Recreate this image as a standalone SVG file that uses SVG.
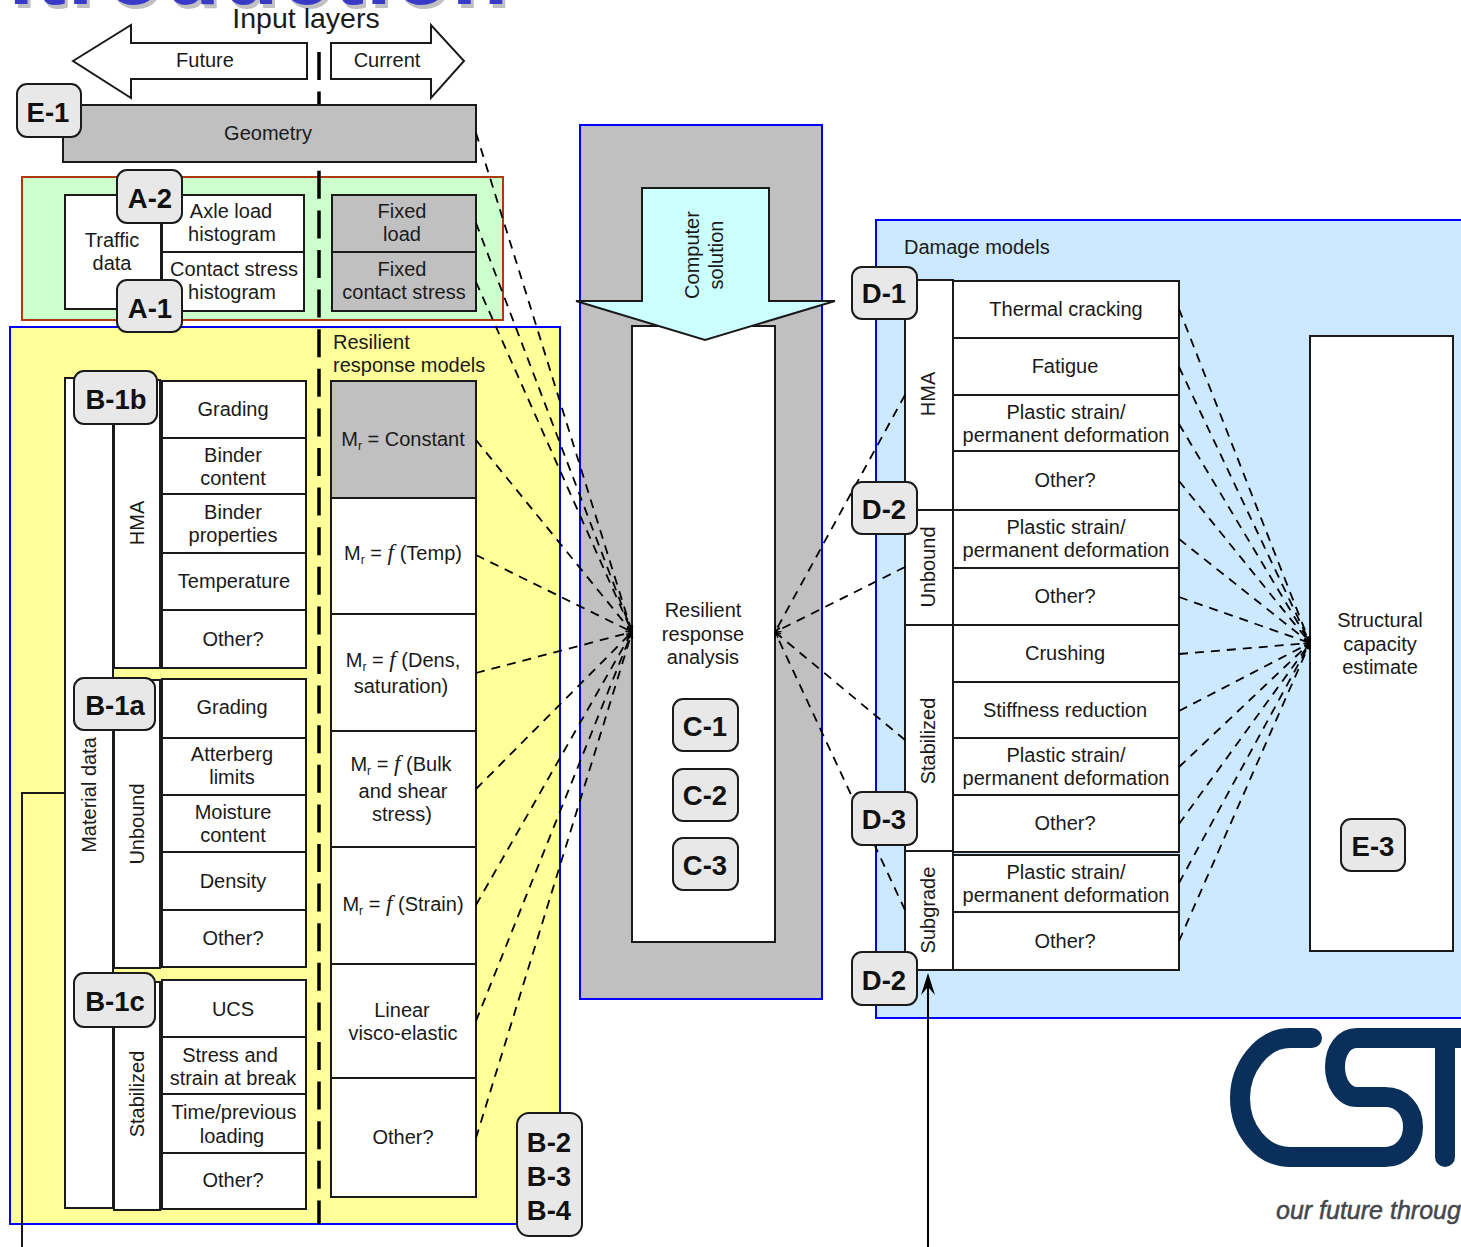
<svg xmlns="http://www.w3.org/2000/svg" width="1461" height="1247" viewBox="0 0 1461 1247">
<style>
text{font-family:"Liberation Sans",Arial,sans-serif;font-size:20px;fill:#1a1a1a;text-anchor:middle}
.s{text-anchor:start}
.box{fill:#fff;stroke:#1a1a1a;stroke-width:2}
.gr{fill:#c0c0c0;stroke:#1a1a1a;stroke-width:2}
.tag{fill:#e8e8e8;stroke:#1a1a1a;stroke-width:2}
.t{font-size:27.5px;font-weight:bold;fill:#111}
.panel{stroke:#0000ff;stroke-width:2}
.d{fill:none;stroke:#000;stroke-width:1.8;stroke-dasharray:9 7;marker-end:url(#oa)}
.sub{font-size:12px}
.f{font-family:"Liberation Serif",serif;font-style:italic;font-size:23px}
</style>
<defs>
<marker id="oa" markerUnits="userSpaceOnUse" markerWidth="9" markerHeight="8" refX="8" refY="4" orient="auto"><path d="M2 1.5L8 4L2 6.5" fill="none" stroke="#000" stroke-width="1.3" stroke-dasharray="none"/></marker>
<marker id="st" markerUnits="userSpaceOnUse" markerWidth="24" markerHeight="16" refX="12" refY="8" orient="auto"><path d="M22 8L0 1L8 8L0 15Z" fill="#000"/></marker>
</defs>

<g id="title">
<text x="513" y="8" style="font-size:92px;font-weight:bold;fill:#c0c0c0;text-anchor:end;letter-spacing:2px">Introduction</text>
<text x="510" y="4" style="font-size:92px;font-weight:bold;fill:#3a3ac8;text-anchor:end;letter-spacing:2px">Introduction</text>
</g>

<g id="panels">
<rect x="22" y="177" width="481" height="143" fill="#ccffcc" stroke="#b03a10" stroke-width="2"/>
<rect class="panel" x="10" y="327" width="550" height="897" fill="#ffff99"/>
<rect class="panel" x="580" y="125" width="242" height="874" fill="#c0c0c0"/>
<rect class="panel" x="876" y="220" width="590" height="798" fill="#cce9ff"/>
</g>

<path id="divider" d="M319 52V1224" fill="none" stroke="#000" stroke-width="3.5" stroke-dasharray="28 11.6"/>
<text x="306" y="28" style="font-size:28.5px">Input layers</text>

<g id="future"><path class="box" d="M73 61L131 25V43H307V79H131V98Z"/><text x="205" y="67">Future</text></g>
<g id="current"><path class="box" d="M331 43H431V25L464 61L431 98V79H331Z"/><text x="387" y="67">Current</text></g>
<g id="geometry"><rect class="gr" x="63" y="105" width="413" height="57"/><text x="268" y="140">Geometry</text></g>

<g id="traffic">
<rect class="box" x="65" y="195" width="96" height="114"/><text x="112" y="247">Traffic</text><text x="112" y="270">data</text>
<rect class="box" x="162" y="195" width="142" height="57"/><text x="231" y="218">Axle load</text><text x="232" y="241">histogram</text>
<rect class="box" x="162" y="252" width="142" height="59"/><text x="234" y="276">Contact stress</text><text x="232" y="299">histogram</text>
</g>
<g id="fixed">
<rect class="gr" x="332" y="195" width="144" height="57"/><text x="402" y="218">Fixed</text><text x="402" y="241">load</text>
<rect class="gr" x="332" y="252" width="144" height="59"/><text x="402" y="276">Fixed</text><text x="404" y="299">contact stress</text>
</g>

<g id="material-data"><rect class="box" x="65" y="378" width="48" height="830"/><text transform="translate(96 795) rotate(-90)">Material data</text></g>
<g id="hma">
<rect class="box" x="114" y="380" width="46" height="288"/><text transform="translate(144 523) rotate(-90)">HMA</text>
<rect class="box" x="162" y="381" width="144" height="57"/><text x="233" y="416">Grading</text>
<rect class="box" x="162" y="438" width="144" height="56"/><text x="233" y="462">Binder</text><text x="233" y="485">content</text>
<rect class="box" x="162" y="494" width="144" height="59"/><text x="233" y="519">Binder</text><text x="233" y="542">properties</text>
<rect class="box" x="162" y="553" width="144" height="57"/><text x="234" y="588">Temperature</text>
<rect class="box" x="162" y="610" width="144" height="58"/><text x="233" y="646">Other?</text>
</g>
<g id="unbound">
<rect class="box" x="114" y="680" width="46" height="288"/><text transform="translate(144 824) rotate(-90)">Unbound</text>
<rect class="box" x="162" y="679" width="144" height="59"/><text x="232" y="714">Grading</text>
<rect class="box" x="162" y="738" width="144" height="57"/><text x="232" y="761">Atterberg</text><text x="232" y="784">limits</text>
<rect class="box" x="162" y="795" width="144" height="57"/><text x="233" y="819">Moisture</text><text x="233" y="842">content</text>
<rect class="box" x="162" y="852" width="144" height="58"/><text x="233" y="888">Density</text>
<rect class="box" x="162" y="910" width="144" height="57"/><text x="233" y="945">Other?</text>
</g>
<g id="stabilized">
<rect class="box" x="114" y="982" width="46" height="228"/><text transform="translate(144 1094) rotate(-90)">Stabilized</text>
<rect class="box" x="162" y="980" width="144" height="57"/><text x="233" y="1016">UCS</text>
<rect class="box" x="162" y="1037" width="144" height="57"/><text x="230" y="1062">Stress and</text><text x="233" y="1085">strain at break</text>
<rect class="box" x="162" y="1094" width="144" height="59"/><text x="234" y="1119">Time/previous</text><text x="232" y="1143">loading</text>
<rect class="box" x="162" y="1153" width="144" height="56"/><text x="233" y="1187">Other?</text>
</g>

<g id="resilient-models">
<text class="s" x="333" y="349">Resilient</text><text class="s" x="333" y="372">response models</text>
<rect class="gr" x="331" y="381" width="145" height="117"/><text x="403" y="446">M<tspan class="sub" dy="4">r</tspan><tspan dy="-4"> = Constant</tspan></text>
<rect class="box" x="331" y="498" width="145" height="116"/><text x="403" y="560">M<tspan class="sub" dy="4">r</tspan><tspan dy="-4"> = </tspan><tspan class="f">f </tspan><tspan>(Temp)</tspan></text>
<rect class="box" x="331" y="614" width="145" height="117"/><text x="403" y="667">M<tspan class="sub" dy="4">r</tspan><tspan dy="-4"> = </tspan><tspan class="f">f </tspan><tspan>(Dens,</tspan></text><text x="401" y="693">saturation)</text>
<rect class="box" x="331" y="731" width="145" height="116"/><text x="401" y="771">M<tspan class="sub" dy="4">r</tspan><tspan dy="-4"> = </tspan><tspan class="f">f </tspan><tspan>(Bulk</tspan></text><text x="403" y="798">and shear</text><text x="402" y="821">stress)</text>
<rect class="box" x="331" y="847" width="145" height="117"/><text x="403" y="911">M<tspan class="sub" dy="4">r</tspan><tspan dy="-4"> = </tspan><tspan class="f">f </tspan><tspan>(Strain)</tspan></text>
<rect class="box" x="331" y="964" width="145" height="114"/><text x="402" y="1017">Linear</text><text x="403" y="1040">visco-elastic</text>
<rect class="box" x="331" y="1078" width="145" height="119"/><text x="403" y="1144">Other?</text>
</g>

<g id="analysis">
<rect class="box" x="632" y="326" width="143" height="616"/>
<text x="703" y="617">Resilient</text><text x="703" y="641">response</text><text x="703" y="664">analysis</text>
</g>
<g id="computer-solution"><path d="M642 188H769V301H835L705 340L576 301H642Z" fill="#ccffff" stroke="#1a1a1a" stroke-width="2"/>
<text transform="translate(699 255) rotate(-90)">Computer</text><text transform="translate(723 255) rotate(-90)">solution</text></g>

<g id="damage-models">
<text class="s" x="904" y="254">Damage models</text>
<rect class="box" x="905" y="280" width="48" height="230"/><text transform="translate(935 394) rotate(-90)">HMA</text>
<rect class="box" x="905" y="510" width="48" height="115"/><text transform="translate(935 567) rotate(-90)">Unbound</text>
<rect class="box" x="905" y="625" width="48" height="226"/><text transform="translate(935 741) rotate(-90)">Stabilized</text>
<rect class="box" x="905" y="851" width="48" height="119"/><text transform="translate(935 910) rotate(-90)">Subgrade</text>
<rect class="box" x="953" y="281" width="226" height="57"/><text x="1066" y="316">Thermal cracking</text>
<rect class="box" x="953" y="338" width="226" height="57"/><text x="1065" y="373">Fatigue</text>
<rect class="box" x="953" y="395" width="226" height="56"/><text x="1066" y="419">Plastic strain/</text><text x="1066" y="442">permanent deformation</text>
<rect class="box" x="953" y="451" width="226" height="59"/><text x="1065" y="487">Other?</text>
<rect class="box" x="953" y="510" width="226" height="58"/><text x="1066" y="534">Plastic strain/</text><text x="1066" y="557">permanent deformation</text>
<rect class="box" x="953" y="568" width="226" height="57"/><text x="1065" y="603">Other?</text>
<rect class="box" x="953" y="625" width="226" height="57"/><text x="1065" y="660">Crushing</text>
<rect class="box" x="953" y="682" width="226" height="56"/><text x="1065" y="717">Stiffness reduction</text>
<rect class="box" x="953" y="738" width="226" height="57"/><text x="1066" y="762">Plastic strain/</text><text x="1066" y="785">permanent deformation</text>
<rect class="box" x="953" y="795" width="226" height="57"/><text x="1065" y="830">Other?</text>
<rect class="box" x="953" y="855" width="226" height="57"/><text x="1066" y="879">Plastic strain/</text><text x="1066" y="902">permanent deformation</text>
<rect class="box" x="953" y="912" width="226" height="58"/><text x="1065" y="948">Other?</text>
</g>
<g id="structural"><rect class="box" x="1310" y="336" width="143" height="615"/>
<text x="1380" y="627">Structural</text><text x="1380" y="651">capacity</text><text x="1380" y="674">estimate</text></g>

<g id="connectors">
<path class="d" d="M476 133L632 632"/><path class="d" d="M476 223L632 632"/><path class="d" d="M476 282L632 632"/>
<path class="d" d="M476 440L632 632"/><path class="d" d="M476 555L632 632"/><path class="d" d="M476 673L632 632"/>
<path class="d" d="M476 789L632 632"/><path class="d" d="M476 905L632 632"/><path class="d" d="M476 1021L632 632"/><path class="d" d="M476 1138L632 632"/>
<path class="d" d="M905 395L775 632"/><path class="d" d="M905 567L775 632"/><path class="d" d="M905 740L775 632"/><path class="d" d="M905 910L775 632"/>
<path class="d" d="M1179 309L1310 643"/><path class="d" d="M1179 367L1310 643"/><path class="d" d="M1179 424L1310 643"/><path class="d" d="M1179 481L1310 643"/>
<path class="d" d="M1179 539L1310 643"/><path class="d" d="M1179 597L1310 643"/><path class="d" d="M1179 654L1310 643"/><path class="d" d="M1179 711L1310 643"/>
<path class="d" d="M1179 767L1310 643"/><path class="d" d="M1179 824L1310 643"/><path class="d" d="M1179 883L1310 643"/><path class="d" d="M1179 941L1310 643"/>
<path d="M22 1247V793H65" fill="none" stroke="#1a1a1a" stroke-width="2"/>
<path d="M928 1247V983" fill="none" stroke="#000" stroke-width="2" marker-end="url(#st)"/>
</g>

<g id="logo">
<path d="M1312 1038H1290C1262 1038 1240 1068 1240 1098C1240 1130 1262 1157 1290 1157H1385C1402 1157 1413 1143 1413 1127C1413 1110 1402 1097 1385 1097H1357C1344 1097 1335 1083 1335 1067C1335 1050 1344 1038 1357 1038H1461M1445 1038V1157" fill="none" stroke="#0a2f5a" stroke-width="20" stroke-linecap="round"/>
<text class="s" x="1276" y="1219" style="font-size:25px;font-style:italic;fill:#44474c;stroke:#44474c;stroke-width:.5">our future throug</text>
</g>

<g id="tag-E-1"><rect class="tag" x="17" y="84" width="64" height="53" rx="10"/><text class="t" x="48" y="122">E-1</text></g>
<g id="tag-A-2"><rect class="tag" x="117" y="170" width="65" height="53" rx="10"/><text class="t" x="150" y="208">A-2</text></g>
<g id="tag-A-1"><rect class="tag" x="117" y="280" width="65" height="52" rx="10"/><text class="t" x="150" y="318">A-1</text></g>
<g id="tag-B-1b"><rect class="tag" x="74" y="371" width="83" height="53" rx="10"/><text class="t" x="116" y="409">B-1b</text></g>
<g id="tag-B-1a"><rect class="tag" x="74" y="678" width="81" height="52" rx="10"/><text class="t" x="115" y="715">B-1a</text></g>
<g id="tag-B-1c"><rect class="tag" x="74" y="973" width="81" height="54" rx="10"/><text class="t" x="115" y="1011">B-1c</text></g>
<g id="tag-B-234"><rect class="tag" x="517" y="1113" width="65" height="123" rx="12"/><text class="t" x="549" y="1152">B-2</text><text class="t" x="549" y="1186">B-3</text><text class="t" x="549" y="1220">B-4</text></g>
<g id="tag-C-1"><rect class="tag" x="673" y="699" width="65" height="52" rx="10"/><text class="t" x="705" y="736">C-1</text></g>
<g id="tag-C-2"><rect class="tag" x="673" y="769" width="65" height="52" rx="10"/><text class="t" x="705" y="805">C-2</text></g>
<g id="tag-C-3"><rect class="tag" x="673" y="838" width="65" height="52" rx="10"/><text class="t" x="705" y="875">C-3</text></g>
<g id="tag-D-1"><rect class="tag" x="852" y="267" width="65" height="52" rx="10"/><text class="t" x="884" y="303">D-1</text></g>
<g id="tag-D-2a"><rect class="tag" x="852" y="482" width="65" height="52" rx="10"/><text class="t" x="884" y="519">D-2</text></g>
<g id="tag-D-3"><rect class="tag" x="852" y="792" width="65" height="53" rx="10"/><text class="t" x="884" y="829">D-3</text></g>
<g id="tag-D-2b"><rect class="tag" x="852" y="952" width="65" height="53" rx="10"/><text class="t" x="884" y="990">D-2</text></g>
<g id="tag-E-3"><rect class="tag" x="1341" y="819" width="64" height="52" rx="10"/><text class="t" x="1373" y="856">E-3</text></g>
</svg>
